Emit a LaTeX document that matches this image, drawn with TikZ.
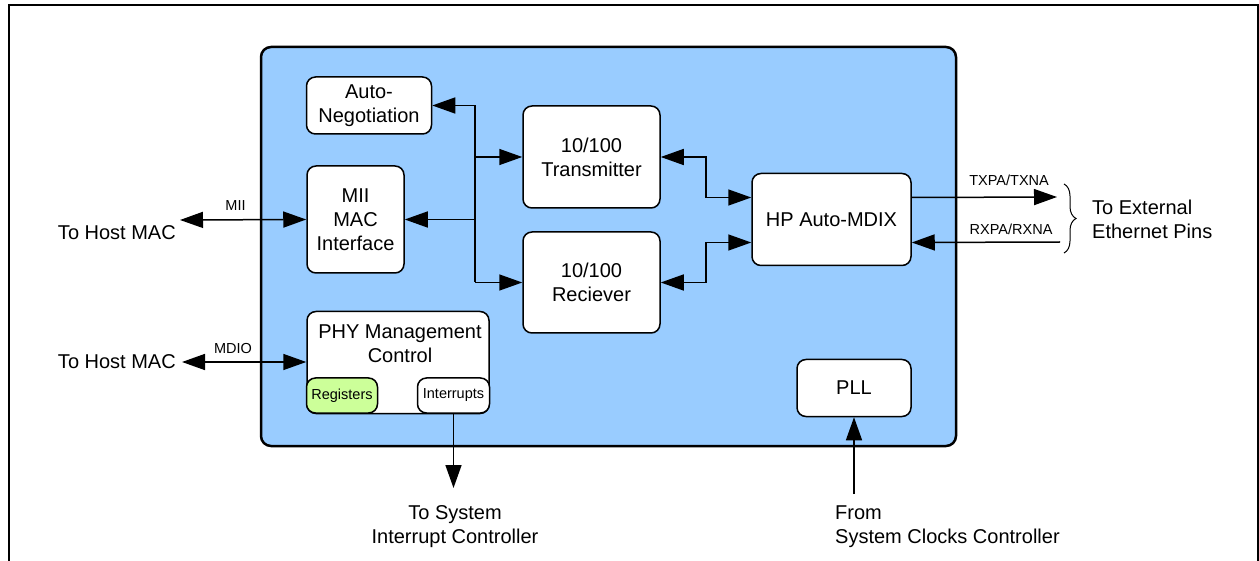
\documentclass[tikz,border=0pt]{standalone}
\usepackage{fontspec}
\setmainfont{Liberation Sans}
\usetikzlibrary{arrows.meta,decorations.pathreplacing}
\definecolor{chipblue}{RGB}{153,204,255}
\definecolor{reggreen}{RGB}{204,255,153}
\newcommand{\mainsz}{\fontsize{20}{24}\selectfont}
\newcommand{\labsz}{\fontsize{14.5}{17}\selectfont}

\begin{document}
\begin{tikzpicture}[x=1pt, y=-1pt, >={Triangle[length=23pt,width=16pt]},
    blk/.style={draw, line width=1.5pt, fill=white, rounded corners=9pt, align=center, font=\mainsz, inner sep=0pt},
    sub/.style={draw, line width=1.5pt, rounded corners=9pt, font=\labsz, inner sep=0pt, minimum width=71, minimum height=35},
    link/.style={line width=1.5pt},
    txt/.style={font=\mainsz, align=center, inner sep=0pt},
    lbl/.style={font=\labsz, inner sep=0pt}]
    \useasboundingbox (0,0) rectangle (1259,561);
    \draw[line width=2pt] (9,561) -- (9,5) -- (1258,5) -- (1258,561);
    \draw[line width=2.5pt, fill=chipblue, rounded corners=10pt] (261,47) rectangle (956,446);

    \node[blk, minimum width=125, minimum height=57] (autoneg) at (369,105.5) {Auto-\\Negotiation};
    \node[blk, minimum width=97, minimum height=107] (mii) at (355.5,219.5) {MII\\MAC\\Interface};
    \node[blk, minimum width=137, minimum height=102] (tx) at (591.5,157) {10/100\\Transmitter};
    \node[blk, minimum width=137, minimum height=101] (rx) at (591.5,282.5) {10/100\\Reciever};
    \node[blk, minimum width=159, minimum height=92] (mdix) at (831.5,219.5) {HP Auto-MDIX};
    \node[blk, minimum width=182, minimum height=102] (phy) at (398,362.5) {};
    \node[txt, anchor=north] (phytxt) at (400,325) {PHY Management\\Control};
    \node[sub, fill=reggreen] (reg) at (342,395.5) {Registers};
    \node[sub, fill=white, minimum width=72] (intr) at (453.5,395.5) {Interrupts};
    \node[blk, minimum width=114, minimum height=57] (pll) at (854,388) {PLL};

    \coordinate (bustop) at (475,105.5);
    \coordinate (busbot) at (475,282.5);
    \draw[link] (bustop) -- (busbot);
    \draw[link, ->] (bustop) -- (autoneg.east);
    \draw[link, ->] (bustop |- tx.west) -- (tx.west);
    \draw[link, ->] (bustop |- mii.east) -- (mii.east);
    \draw[link, ->] (busbot) -- (rx.west);
    \draw[link, <->] (tx.east) -- ++(45,0) |- ([yshift=22]mdix.west);
    \draw[link, <->] (rx.east) -- ++(45,0) |- ([yshift=-23]mdix.west);

    \coordinate (txout) at (1057,197);
    \coordinate (rxin) at (1060,242);
    \draw[link, ->] ([yshift=22]mdix.east) -- (txout) node[lbl, pos=0.67, above=11pt] (txlbl) {TXPA/TXNA};
    \draw[link, ->] (rxin) -- ([yshift=-23]mdix.east) node[lbl, pos=0.33, above=7pt] (rxlbl) {RXPA/RXNA};
    \draw[line width=1pt, decorate, decoration={brace, amplitude=12pt}] (1064,184) -- (1064,253);
    \node[txt, align=left, anchor=west] (extpins) at (1092,219) {To External\\Ethernet Pins};

    \node[txt, anchor=east] (host1) at (176,233) {To Host MAC};
    \coordinate (miiin) at (180,220);
    \draw[link, <->] (miiin) -- (mii.west) node[lbl, pos=0.44, above=9pt] (miilbl) {MII};

    \node[txt, anchor=east] (host2) at (176,362) {To Host MAC};
    \draw[link, <->] ([xshift=6]host2.east) -- (phy.west |- host2.east) node[lbl, pos=0.41, above=8pt] (mdiolbl) {MDIO};

    \coordinate (irqout) at (453.5,488);
    \draw[link, ->] (intr.south) -- (irqout);
    \node[txt, anchor=north] (irqtxt) at (455,505) {To System\\Interrupt Controller};

    \coordinate (clkin) at (854,494);
    \draw[link, ->] (clkin) -- (pll.south);
    \node[txt, align=left, anchor=north west] (clktxt) at (835,506) {From\\System Clocks Controller};
\end{tikzpicture}
\end{document}
